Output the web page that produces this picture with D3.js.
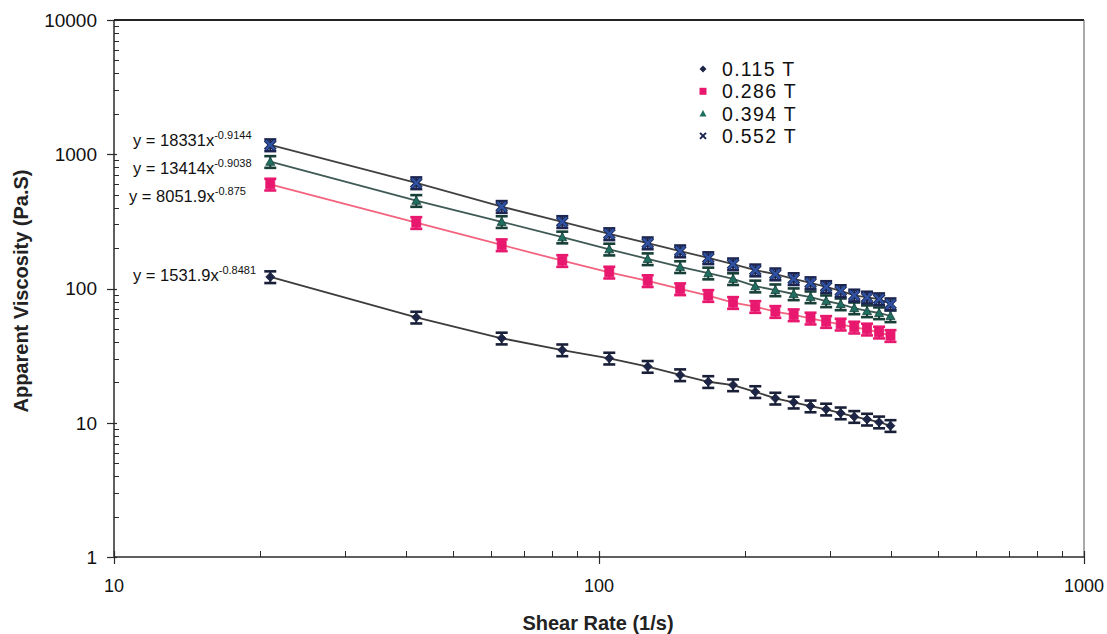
<!DOCTYPE html>
<html>
<head>
<meta charset="utf-8">
<script src="https://cdn.jsdelivr.net/npm/d3@7/dist/d3.min.js"></script>
<style>
  html, body { margin: 0; padding: 0; background: #fff; }
  svg { display: block; font-family: "Liberation Sans", Arial, Helvetica, sans-serif; }
</style>
</head>
<body>
<svg id="chart" width="1107" height="634"></svg>
<script>
// ---------------- data ----------------
const shearRates = [21, 42, 63, 84, 105, 126, 147, 168, 189, 210, 231, 252, 273, 294, 315, 336, 357, 378, 399];

const seriesNames = ["0.115 T", "0.286 T", "0.394 T", "0.552 T"];

const visc0115 = [122, 61, 42.6, 34.8, 30.2, 26.2, 22.7, 20.2, 19.1, 17.0, 15.2, 14.2, 13.3, 12.6, 11.8, 11.1, 10.6, 10.1, 9.5];
const visc0286 = [597, 309, 211, 161, 132, 114, 99.2, 88.4, 78.4, 73.2, 67.2, 63.5, 60.0, 56.6, 54.1, 51.4, 49.7, 47.2, 44.5];
const visc0394 = [880, 451, 314, 241, 196, 166, 145, 130, 118, 104, 97.4, 91.0, 86.4, 80.7, 76.6, 71.5, 68.0, 65.7, 62.4];
const visc0552 = [1172, 611, 407, 314, 255, 218, 190, 169, 152, 137, 128, 118, 110, 103, 96.0, 89.0, 86.0, 83.5, 76.6];

// relative size of the error bars
const errorFraction = [0.10, 0.10, 0.10, 0.10];

// fitted power-law equations shown as labels
const eqCoef = ["1531.9", "8051.9", "13414", "18331"];
const eqExp  = ["-0.8481", "-0.875", "-0.9038", "-0.9144"];

const xTickLabels = [10, 100, 1000];
const yTickLabels = [1, 10, 100, 1000, 10000];

// ---------------- layout / style ----------------
const plot = { left: 114, right: 1084, top: 20, bottom: 557 };

const markerShapes = ["diamond", "square", "triangle", "cross"];
const markerFill   = ["#1d2547", "#e8186e", "#1f6e5f", "#2f52a3"];
const errColor     = ["#1a1f38", "#e8186e", "#173f38", "#1b2550"];
const lineColor    = ["#3c3c3c", "#f2637f", "#3f5a55", "#414141"];

const svg = d3.select("#chart");

const x = d3.scaleLog().domain([10, 1000]).range([plot.left, plot.right]);
const y = d3.scaleLog().domain([1, 10000]).range([plot.bottom, plot.top]);

const axisColor = "#2a2a2a";

// frame: top and right
svg.append("line").attr("x1", plot.left).attr("x2", plot.right).attr("y1", plot.top).attr("y2", plot.top)
  .attr("stroke", "#222").attr("stroke-width", 2);
svg.append("line").attr("x1", plot.right).attr("x2", plot.right).attr("y1", plot.top).attr("y2", plot.bottom)
  .attr("stroke", "#555").attr("stroke-width", 1);

// ---------- y axis ----------
const yMinor = [];
for (let d = 1; d < 10000; d *= 10) for (let m = 2; m <= 9; m++) yMinor.push(d * m);
const yAxisG = svg.append("g");
yAxisG.selectAll("line.minor").data(yMinor).enter().append("line")
  .attr("x1", plot.left).attr("x2", plot.left + 5)
  .attr("y1", d => Math.round(y(d)) + 0.5).attr("y2", d => Math.round(y(d)) + 0.5)
  .attr("stroke", axisColor).attr("stroke-width", 1);
yAxisG.selectAll("line.major").data(yTickLabels).enter().append("line")
  .attr("x1", plot.left - 7).attr("x2", plot.left + 3)
  .attr("y1", d => Math.round(y(d)) + 0.5).attr("y2", d => Math.round(y(d)) + 0.5)
  .attr("stroke", axisColor).attr("stroke-width", 1.2);
yAxisG.append("line").attr("x1", plot.left).attr("x2", plot.left)
  .attr("y1", plot.top).attr("y2", plot.bottom).attr("stroke", axisColor).attr("stroke-width", 1.5);
yAxisG.selectAll("text").data(yTickLabels).enter().append("text")
  .attr("x", 97).attr("y", d => y(d)).attr("dy", "0.36em")
  .attr("text-anchor", "end").attr("font-size", 19).attr("fill", "#111")
  .text(d => d3.format("d")(d));

// ---------- x axis ----------
const xMinor = [];
for (let d = 10; d < 1000; d *= 10) for (let m = 2; m <= 9; m++) xMinor.push(d * m);
const xAxisG = svg.append("g");
xAxisG.selectAll("line.minor").data(xMinor).enter().append("line")
  .attr("x1", d => Math.round(x(d)) + 0.5).attr("x2", d => Math.round(x(d)) + 0.5)
  .attr("y1", plot.bottom).attr("y2", plot.bottom - 6)
  .attr("stroke", axisColor).attr("stroke-width", 1);
xAxisG.selectAll("line.major").data(xTickLabels).enter().append("line")
  .attr("x1", d => Math.round(x(d)) + 0.5).attr("x2", d => Math.round(x(d)) + 0.5)
  .attr("y1", plot.bottom - 6).attr("y2", plot.bottom + 7)
  .attr("stroke", axisColor).attr("stroke-width", 1.2);
xAxisG.append("line").attr("x1", plot.left).attr("x2", plot.right)
  .attr("y1", plot.bottom).attr("y2", plot.bottom).attr("stroke", axisColor).attr("stroke-width", 1.5);
xAxisG.selectAll("text").data(xTickLabels).enter().append("text")
  .attr("x", d => x(d)).attr("y", 592)
  .attr("text-anchor", "middle").attr("font-size", 18).attr("fill", "#111")
  .text(d => d3.format("d")(d));

// axis titles
svg.append("text").attr("x", 598).attr("y", 630).attr("text-anchor", "middle")
  .attr("font-size", 20).attr("font-weight", "bold").attr("fill", "#222")
  .text("Shear Rate (1/s)");
svg.append("text").attr("transform", "translate(28,291) rotate(-90)").attr("text-anchor", "middle")
  .attr("font-size", 20).attr("font-weight", "bold").attr("fill", "#222")
  .text("Apparent Viscosity (Pa.S)");

// ---------- series ----------
const allSeries = [visc0115, visc0286, visc0394, visc0552];

function markerPath(shape, s) {
  const h = s / 2;
  switch (shape) {
    case "diamond": return `M0,${-h}L${h},0L0,${h}L${-h},0Z`;
    case "square": return `M${-h},${-h}H${h}V${h}H${-h}Z`;
    case "triangle": return `M0,${-h}L${h},${h * 0.8}H${-h}Z`;
    case "cross": return `M${-h},${-h}L${h},${h}M${h},${-h}L${-h},${h}`;
  }
}

const line = d3.line().x(d => x(d[0])).y(d => y(d[1]));

allSeries.forEach((vals, i) => {
  const pts = shearRates.map((r, j) => [r, vals[j]]);
  svg.append("path").datum(pts).attr("d", line)
    .attr("fill", "none").attr("stroke", lineColor[i]).attr("stroke-width", 1.8);
});

allSeries.forEach((vals, i) => {
  const pts = shearRates.map((r, j) => [r, vals[j]]);
  const g = svg.append("g");
  const e = errorFraction[i];
  const pg = g.selectAll("g").data(pts).enter().append("g")
    .attr("transform", d => `translate(${x(d[0])},${y(d[1])})`);
  // error bars
  pg.append("line").attr("x1", 0).attr("x2", 0)
    .attr("y1", d => y(d[1] * (1 + e)) - y(d[1])).attr("y2", d => y(d[1] * (1 - e)) - y(d[1]))
    .attr("stroke", errColor[i]).attr("stroke-width", 2);
  pg.append("line").attr("x1", -6).attr("x2", 6)
    .attr("y1", d => y(d[1] * (1 + e)) - y(d[1])).attr("y2", d => y(d[1] * (1 + e)) - y(d[1]))
    .attr("stroke", errColor[i]).attr("stroke-width", 2.6);
  pg.append("line").attr("x1", -6).attr("x2", 6)
    .attr("y1", d => y(d[1] * (1 - e)) - y(d[1])).attr("y2", d => y(d[1] * (1 - e)) - y(d[1]))
    .attr("stroke", errColor[i]).attr("stroke-width", 2.6);
  // markers
  if (markerShapes[i] === "cross") {
    pg.append("path").attr("d", markerPath("cross", 10))
      .attr("stroke", errColor[i]).attr("stroke-width", 4).attr("fill", "none");
    pg.append("path").attr("d", markerPath("cross", 9))
      .attr("stroke", markerFill[i]).attr("stroke-width", 2.4).attr("fill", "none");
  } else {
    pg.append("path").attr("d", markerPath(markerShapes[i], 9))
      .attr("fill", markerFill[i]).attr("stroke", errColor[i]).attr("stroke-width", 0.8);
  }
});

// ---------- equations ----------
const eqPos = [[133, 281], [129, 202], [133, 174], [133, 146]];
eqCoef.forEach((c, i) => {
  const t = svg.append("text").attr("x", eqPos[i][0]).attr("y", eqPos[i][1])
    .attr("font-size", 16.5).attr("fill", "#111");
  t.append("tspan").text(`y = ${c}x`);
  t.append("tspan").attr("dy", -7).attr("font-size", 11).text(eqExp[i]);
});

// ---------- legend ----------
const legend = svg.append("g").attr("transform", "translate(703,69)");
seriesNames.forEach((name, i) => {
  const row = legend.append("g").attr("transform", `translate(0,${i * 22.3})`);
  if (markerShapes[i] === "cross") {
    row.append("path").attr("d", markerPath("cross", 6))
      .attr("stroke", errColor[i]).attr("stroke-width", 2).attr("fill", "none");
  } else {
    row.append("path").attr("d", markerPath(markerShapes[i], 7)).attr("fill", markerFill[i]);
  }
  row.append("text").attr("x", 19).attr("y", 0).attr("dy", "0.36em")
    .attr("font-size", 19.5).attr("letter-spacing", 1.3).attr("fill", "#111").text(name);
});
</script>
</body>
</html>
